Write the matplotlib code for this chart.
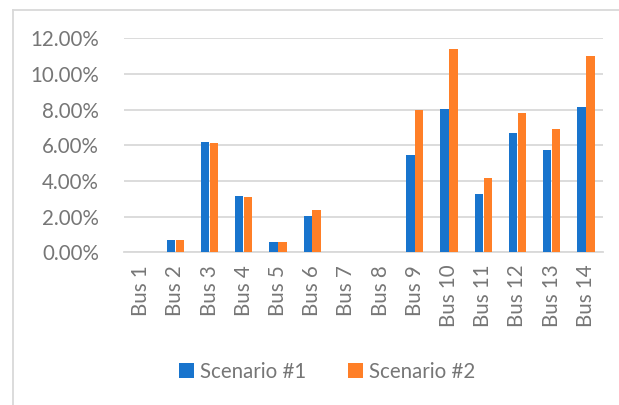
import matplotlib
matplotlib.use("Agg")
import matplotlib.pyplot as plt
from matplotlib.lines import Line2D
from matplotlib.ticker import FuncFormatter
import numpy as np

categories = ["Bus 1", "Bus 2", "Bus 3", "Bus 4", "Bus 5", "Bus 6", "Bus 7",
              "Bus 8", "Bus 9", "Bus 10", "Bus 11", "Bus 12", "Bus 13", "Bus 14"]
scenario1 = [0.0, 0.71, 6.20, 3.14, 0.59, 2.04, 0.0, 0.0, 5.44, 8.05, 3.27, 6.67, 5.74, 8.15]
scenario2 = [0.0, 0.70, 6.11, 3.08, 0.59, 2.35, 0.0, 0.0, 8.00, 11.38, 4.19, 7.79, 6.90, 10.99]
yticks = [0, 2, 4, 6, 8, 10, 12]

BLUE = "#1874CD"
ORANGE = "#FF7F27"
GRID = "#D9D9D9"
TEXT = "#767676"

plt.rcParams["font.family"] = ["Lato", "DejaVu Sans"]

W, H = 619, 405
fig = plt.figure(figsize=(W / 100, H / 100), dpi=100)
ax = fig.add_axes([124 / W, 1 - 252.3 / H, (603 - 124) / W, (252.3 - 38.3) / H])

x = np.arange(len(categories))
bw = 0.245
ax.bar(x - 0.13, scenario1, width=bw, color=BLUE, label="Scenario #1", zorder=3)
ax.bar(x + 0.13, scenario2, width=bw, color=ORANGE, label="Scenario #2", zorder=3)

ax.set_xlim(-0.5, len(categories) - 0.5)
ax.set_ylim(0, 12)
ax.set_yticks(yticks)
ax.yaxis.set_major_formatter(FuncFormatter(lambda v, _: f"{v:.2f}%"))
ax.set_xticks(x)
ax.set_xticklabels(categories, rotation=90, va="top", ha="center")

ax.grid(axis="y", color=GRID, linewidth=1.3, zorder=0)
for s in ["top", "right", "left"]:
    ax.spines[s].set_visible(False)
ax.spines["bottom"].set_color(GRID)
ax.spines["bottom"].set_linewidth(1.3)
ax.tick_params(axis="both", length=0, colors=TEXT, labelsize=14.8)
ax.tick_params(axis="y", pad=18)
ax.tick_params(axis="x", pad=9)

fig.legend(loc="center", bbox_to_anchor=(327 / W, 1 - 372 / H), ncol=2,
           frameon=False, fontsize=14.8, labelcolor=TEXT, handlelength=0.75,
           handleheight=0.75, handletextpad=0.3, columnspacing=2.0)

# chart frame
fig.add_artist(Line2D([13 / W, 13 / W], [0, 1 - 9.5 / H], color=GRID, linewidth=1.3,
                      transform=fig.transFigure))
fig.add_artist(Line2D([13 / W, 1], [1 - 9.5 / H, 1 - 9.5 / H], color=GRID, linewidth=1.3,
                      transform=fig.transFigure))

fig.savefig("out.png", dpi=100)
